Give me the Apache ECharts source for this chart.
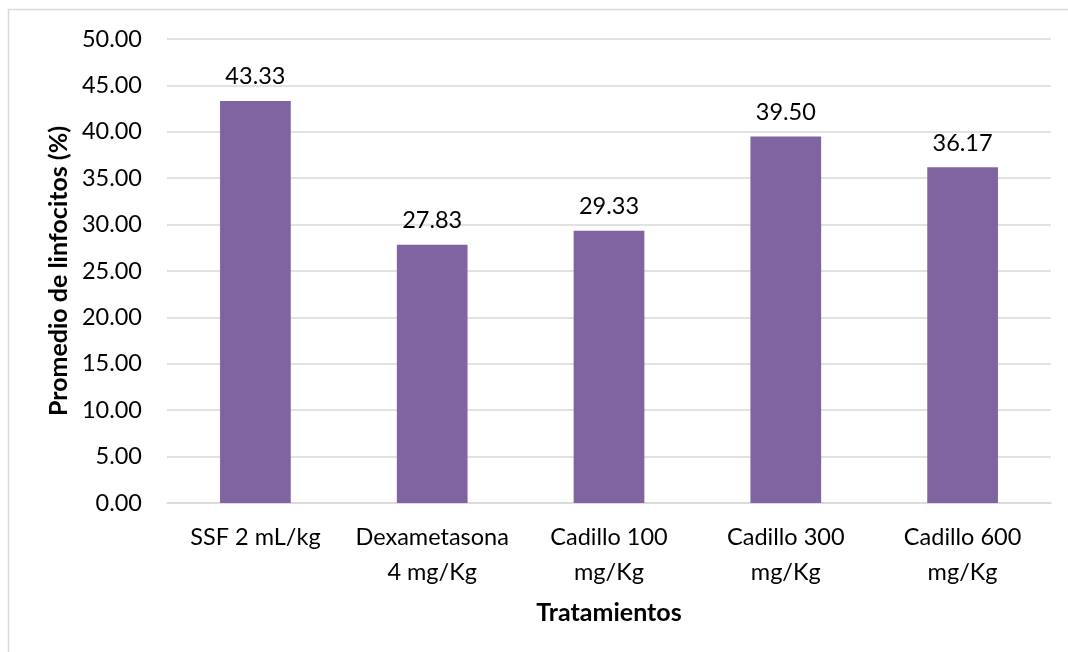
<!DOCTYPE html>
<html>
<head>
<meta charset="utf-8">
<script src="https://cdn.jsdelivr.net/npm/echarts@6/dist/echarts.min.js"></script>
<style>
  html, body { margin: 0; padding: 0; background: #fff; }
  #chart { width: 1068px; height: 652px; }
</style>
</head>
<body>
<div id="chart"></div>
<script>
// Treatment groups and mean lymphocyte percentage per group
const categories = [
  'SSF 2 mL/kg',
  'Dexametasona\n4 mg/Kg',
  'Cadillo 100\nmg/Kg',
  'Cadillo 300\nmg/Kg',
  'Cadillo 600\nmg/Kg'
];
const linfocitos = [43.33, 27.83, 29.33, 39.50, 36.17];
const yTitle = 'Promedio de linfocitos (%)';
const xTitle = 'Tratamientos';

const FONT = 'Lato, "Open Sans", sans-serif';
const chart = echarts.init(document.getElementById('chart'), null, { renderer: 'canvas' });

chart.setOption({
  backgroundColor: '#ffffff',
  animation: false,
  textStyle: { fontFamily: FONT },
  graphic: [{
    type: 'rect',
    silent: true,
    shape: { x: 8.5, y: 9.5, width: 1100, height: 700 },
    style: { fill: 'none', stroke: '#d9d9d9', lineWidth: 1.5 }
  }],
  grid: { left: 167, right: 17, top: 39, bottom: 149, containLabel: false },
  xAxis: {
    type: 'category',
    data: categories,
    name: xTitle,
    nameLocation: 'middle',
    nameGap: 97,
    nameTextStyle: { fontFamily: FONT, fontSize: 25, fontWeight: 'bold', color: '#000' },
    axisLine: { show: true, lineStyle: { color: '#d9d9d9', width: 1.5 } },
    axisTick: { show: false },
    axisLabel: {
      interval: 0,
      margin: 17,
      fontFamily: FONT,
      fontSize: 23.5,
      lineHeight: 35,
      color: '#000'
    }
  },
  yAxis: {
    type: 'value',
    min: 0,
    max: 50,
    interval: 5,
    name: yTitle,
    nameLocation: 'middle',
    nameGap: 94,
    nameRotate: 90,
    nameTextStyle: { fontFamily: FONT, fontSize: 25, fontWeight: 'bold', color: '#000' },
    axisLine: { show: false },
    axisTick: { show: false },
    axisLabel: {
      margin: 25,
      fontFamily: FONT,
      fontSize: 23.5,
      color: '#000',
      formatter: v => v.toFixed(2)
    },
    splitLine: { lineStyle: { color: '#d9d9d9', width: 1.5 } }
  },
  series: [{
    type: 'bar',
    data: linfocitos,
    barWidth: '40%',
    itemStyle: { color: '#8064a2' },
    label: {
      show: true,
      position: 'top',
      distance: 12,
      fontFamily: FONT,
      fontSize: 23.5,
      color: '#000',
      formatter: p => p.value.toFixed(2)
    }
  }]
});
</script>
</body>
</html>
